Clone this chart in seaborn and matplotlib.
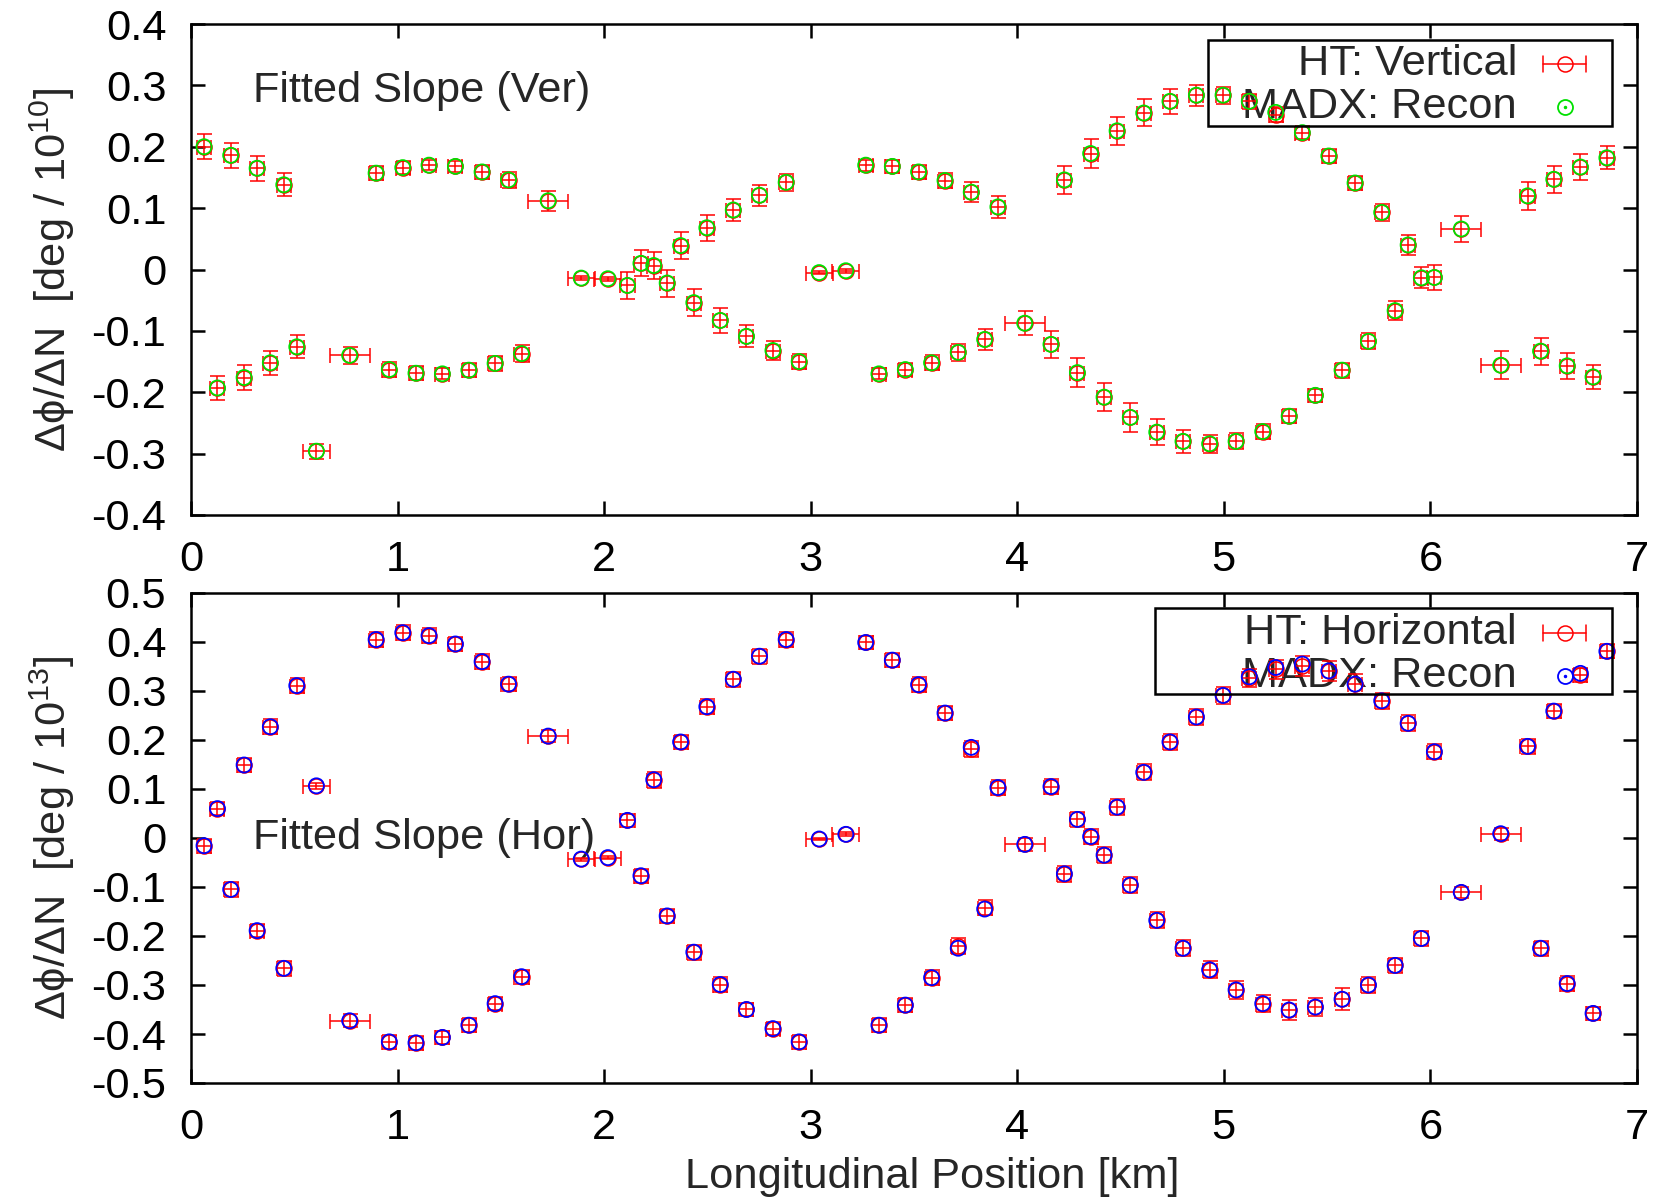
import numpy as np
import pandas as pd
import seaborn as sns
import matplotlib
matplotlib.use("Agg")
import matplotlib.pyplot as plt
from matplotlib.patches import Rectangle

# ---------------- data ----------------
positions = [0.063, 0.128, 0.192, 0.257, 0.320, 0.384, 0.449, 0.512, 0.607, 0.768,
             0.896, 0.960, 1.025, 1.089, 1.152, 1.217, 1.280, 1.345, 1.409, 1.472,
             1.537, 1.600, 1.729, 1.889, 2.018, 2.113, 2.178, 2.240, 2.305, 2.370,
             2.434, 2.497, 2.562, 2.625, 2.689, 2.752, 2.817, 2.881, 2.944, 3.041,
             3.170, 3.266, 3.330, 3.395, 3.458, 3.522, 3.585, 3.650, 3.714, 3.777,
             3.842, 3.906, 4.036, 4.163, 4.228, 4.291, 4.355, 4.420, 4.483, 4.547,
             4.612, 4.675, 4.739, 4.802, 4.867, 4.931, 4.996, 5.059, 5.123, 5.188,
             5.251, 5.316, 5.380, 5.443, 5.508, 5.572, 5.635, 5.700, 5.764, 5.829,
             5.892, 5.956, 6.019, 6.149, 6.340, 6.470, 6.533, 6.597, 6.662, 6.726,
             6.787, 6.854]

position_err = [0.034, 0.034, 0.034, 0.034, 0.034, 0.034, 0.034, 0.034, 0.065, 0.097,
                0.034, 0.034, 0.034, 0.034, 0.034, 0.034, 0.034, 0.034, 0.034, 0.034,
                0.034, 0.034, 0.097, 0.065, 0.065, 0.034, 0.034, 0.034, 0.034, 0.034,
                0.034, 0.034, 0.034, 0.034, 0.034, 0.034, 0.034, 0.034, 0.034, 0.065,
                0.065, 0.034, 0.034, 0.034, 0.034, 0.034, 0.034, 0.034, 0.034, 0.034,
                0.034, 0.034, 0.097, 0.034, 0.034, 0.034, 0.034, 0.034, 0.034, 0.034,
                0.034, 0.034, 0.034, 0.034, 0.034, 0.034, 0.034, 0.034, 0.034, 0.034,
                0.034, 0.034, 0.034, 0.034, 0.034, 0.034, 0.034, 0.034, 0.034, 0.034,
                0.034, 0.034, 0.034, 0.097, 0.097, 0.034, 0.034, 0.034, 0.034, 0.034,
                0.034, 0.034]

ver_ht = [0.200, -0.193, 0.186, -0.176, 0.165, -0.152, 0.138, -0.126, -0.296, -0.140,
          0.157, -0.163, 0.166, -0.169, 0.170, -0.170, 0.168, -0.164, 0.159, -0.153,
          0.146, -0.137, 0.112, -0.014, -0.015, -0.026, 0.010, 0.0065, -0.022, 0.039,
          -0.054, 0.068, -0.083, 0.097, -0.109, 0.121, -0.132, 0.142, -0.150, -0.005,
          -0.002, 0.170, -0.170, 0.168, -0.163, 0.159, -0.152, 0.145, -0.135, 0.126,
          -0.114, 0.102, -0.0875, -0.122, 0.146, -0.168, 0.189, -0.208, 0.226, -0.241,
          0.255, -0.265, 0.274, -0.280, 0.284, -0.284, 0.284, -0.280, 0.274, -0.264,
          0.252, -0.239, 0.223, -0.205, 0.185, -0.164, 0.141, -0.117, 0.093, -0.067,
          0.040, -0.0136, -0.013, 0.066, -0.156, 0.120, -0.133, 0.147, -0.157, 0.167,
          -0.175, 0.182]

ver_ht_err = [0.020, 0.020, 0.020, 0.020, 0.020, 0.020, 0.019, 0.019, 0.012, 0.014,
              0.0115, 0.012, 0.011, 0.011, 0.008, 0.009, 0.009, 0.011, 0.011, 0.012,
              0.013, 0.014, 0.016, 0.003, 0.003, 0.022, 0.021, 0.022, 0.022, 0.022,
              0.022, 0.021, 0.020, 0.018, 0.018, 0.017, 0.015, 0.014, 0.012, 0.003,
              0.003, 0.009, 0.009, 0.010, 0.011, 0.012, 0.012, 0.013, 0.014, 0.016,
              0.017, 0.018, 0.020, 0.022, 0.023, 0.023, 0.023, 0.023, 0.023, 0.023,
              0.022, 0.021, 0.020, 0.019, 0.017, 0.015, 0.014, 0.013, 0.012, 0.012,
              0.012, 0.011, 0.011, 0.011, 0.011, 0.012, 0.012, 0.013, 0.014, 0.015,
              0.017, 0.017, 0.020, 0.021, 0.023, 0.023, 0.022, 0.022, 0.021, 0.021,
              0.019, 0.019]

ver_madx = [0.200, -0.193, 0.186, -0.176, 0.165, -0.152, 0.138, -0.126, -0.296, -0.140,
            0.157, -0.163, 0.166, -0.169, 0.170, -0.170, 0.168, -0.164, 0.159, -0.153,
            0.146, -0.137, 0.112, -0.014, -0.015, -0.026, 0.010, 0.0065, -0.022, 0.039,
            -0.054, 0.068, -0.083, 0.097, -0.109, 0.121, -0.132, 0.142, -0.150, -0.005,
            -0.002, 0.170, -0.170, 0.168, -0.163, 0.159, -0.152, 0.145, -0.135, 0.126,
            -0.114, 0.102, -0.0875, -0.122, 0.146, -0.168, 0.189, -0.208, 0.226, -0.241,
            0.255, -0.265, 0.274, -0.280, 0.284, -0.284, 0.284, -0.280, 0.274, -0.264,
            0.256, -0.239, 0.223, -0.205, 0.185, -0.164, 0.141, -0.117, 0.093, -0.067,
            0.040, -0.0136, -0.013, 0.066, -0.156, 0.120, -0.133, 0.147, -0.157, 0.167,
            -0.175, 0.182]

hor_ht = [-0.0157, 0.060, -0.105, 0.149, -0.189, 0.227, -0.266, 0.311, 0.1065, -0.373,
          0.405, -0.416, 0.419, -0.418, 0.413, -0.407, 0.396, -0.382, 0.360, -0.338,
          0.314, -0.283, 0.208, -0.043, -0.040, 0.036, -0.077, 0.119, -0.159, 0.196,
          -0.233, 0.268, -0.299, 0.324, -0.350, 0.371, -0.389, 0.405, -0.416, -0.002,
          0.0075, 0.399, -0.382, 0.363, -0.341, 0.313, -0.285, 0.255, -0.221, 0.181,
          -0.142, 0.103, -0.013, 0.105, -0.073, 0.038, 0.003, -0.035, 0.063, -0.096,
          0.134, -0.168, 0.196, -0.225, 0.247, -0.269, 0.291, -0.310, 0.327, -0.338,
          0.344, -0.351, 0.351, -0.345, 0.341, -0.329, 0.314, -0.300, 0.280, -0.260,
          0.234, -0.205, 0.176, -0.111, 0.0088, 0.187, -0.225, 0.259, -0.297, 0.333,
          -0.358, 0.381]

hor_ht_err = [0.014, 0.014, 0.015, 0.015, 0.014, 0.015, 0.015, 0.015, 0.006, 0.013,
              0.015, 0.014, 0.015, 0.014, 0.015, 0.014, 0.015, 0.014, 0.015, 0.014,
              0.015, 0.014, 0.012, 0.003, 0.003, 0.013, 0.014, 0.016, 0.015, 0.015,
              0.015, 0.015, 0.015, 0.015, 0.014, 0.015, 0.014, 0.015, 0.014, 0.003,
              0.004, 0.014, 0.014, 0.015, 0.014, 0.015, 0.015, 0.015, 0.016, 0.016,
              0.016, 0.015, 0.013, 0.016, 0.016, 0.016, 0.016, 0.016, 0.016, 0.016,
              0.016, 0.016, 0.016, 0.016, 0.016, 0.017, 0.017, 0.018, 0.018, 0.018,
              0.019, 0.021, 0.020, 0.019, 0.020, 0.022, 0.020, 0.017, 0.016, 0.016,
              0.016, 0.015, 0.015, 0.012, 0.012, 0.015, 0.015, 0.015, 0.015, 0.014,
              0.014, 0.014]

hor_madx = [-0.0157, 0.060, -0.105, 0.149, -0.189, 0.227, -0.266, 0.311, 0.1065, -0.373,
            0.405, -0.416, 0.419, -0.418, 0.413, -0.407, 0.396, -0.382, 0.360, -0.338,
            0.314, -0.283, 0.208, -0.043, -0.040, 0.036, -0.077, 0.119, -0.159, 0.196,
            -0.233, 0.268, -0.299, 0.324, -0.350, 0.371, -0.389, 0.405, -0.416, -0.002,
            0.0075, 0.399, -0.382, 0.363, -0.341, 0.313, -0.285, 0.255, -0.225, 0.185,
            -0.145, 0.103, -0.013, 0.105, -0.073, 0.038, 0.003, -0.035, 0.063, -0.096,
            0.134, -0.168, 0.196, -0.225, 0.247, -0.269, 0.291, -0.310, 0.329, -0.338,
            0.348, -0.351, 0.355, -0.345, 0.341, -0.329, 0.314, -0.300, 0.280, -0.260,
            0.234, -0.205, 0.176, -0.111, 0.0088, 0.187, -0.225, 0.259, -0.297, 0.336,
            -0.358, 0.381]

x_ticks = [0, 1, 2, 3, 4, 5, 6, 7]
x_tick_labels = ["0", "1", "2", "3", "4", "5", "6", "7"]
ver_ticks = [-0.4, -0.3, -0.2, -0.1, 0.0, 0.1, 0.2, 0.3, 0.4]
ver_tick_labels = ["-0.4", "-0.3", "-0.2", "-0.1", "0", "0.1", "0.2", "0.3", "0.4"]
hor_ticks = [-0.5, -0.4, -0.3, -0.2, -0.1, 0.0, 0.1, 0.2, 0.3, 0.4, 0.5]
hor_tick_labels = ["-0.5", "-0.4", "-0.3", "-0.2", "-0.1", "0", "0.1", "0.2", "0.3", "0.4", "0.5"]

# ---------------- style ----------------
sns.set_theme(style="ticks")
plt.rcParams["font.family"] = ["Liberation Sans", "DejaVu Sans"]
plt.rcParams["mathtext.fontset"] = "custom"
plt.rcParams["mathtext.rm"] = "Liberation Sans"
plt.rcParams["mathtext.it"] = "Liberation Sans:italic"
plt.rcParams["axes.unicode_minus"] = False

FS = 31.2
RED = "#ff0000"
GREEN = "#00e000"
BLUE = "#0000ff"
W, H = 1665, 1204

fig = plt.figure(figsize=(W / 100, H / 100), dpi=100)
fig.patch.set_facecolor("white")
ax_top = fig.add_axes([191 / W, 1 - 515 / H, 1446 / W, 491 / H])
ax_bot = fig.add_axes([191 / W, 1 - 1083 / H, 1446 / W, 490 / H])


def draw_panel(ax, y_ht, y_err, y_madx, madx_color, ticks, tick_labels, ylim,
               ylabel, title, title_y, ht_label, box):
    ax.set_facecolor("white")
    # measurement with error bars
    ax.errorbar(positions, y_ht, xerr=position_err, yerr=y_err, fmt="o",
                ms=10.8, mfc="none", mec=RED, mew=1.1, ecolor=RED,
                elinewidth=1.1, capsize=5.4, capthick=1.1, zorder=2)
    # model points
    df = pd.DataFrame({"s": positions, "v": y_madx})
    sns.scatterplot(data=df, x="s", y="v", ax=ax, marker="o", s=117,
                    facecolor="none", edgecolor=madx_color, linewidth=1.3,
                    zorder=3, legend=False)
    coll = ax.collections[-1]
    coll.set_facecolor("none")
    coll.set_edgecolor(madx_color)

    ax.set_xlim(0, 7)
    ax.set_ylim(*ylim)
    ax.set_xticks(x_ticks)
    ax.set_xticklabels(x_tick_labels)
    ax.set_yticks(ticks)
    ax.set_yticklabels(tick_labels)
    ax.set_xlabel("")
    ax.set_ylabel(ylabel, fontsize=FS, va="center")
    ax.yaxis.set_label_coords(-0.096, 0.5)
    ax.tick_params(axis="both", which="major", direction="in", length=10,
                   width=1.8, top=True, right=True, labelsize=FS, colors="black")
    ax.tick_params(axis="x", pad=18)
    ax.tick_params(axis="y", pad=17.8)
    for sp in ax.spines.values():
        sp.set_visible(True)
        sp.set_linewidth(1.8)
        sp.set_color("black")

    ax.text(0.043, title_y, title, transform=ax.transAxes, ha="left",
            va="center", fontsize=FS, zorder=1)

    # legend box (gnuplot-style: right-justified text, sample on the right)
    x0, y0, x1, y1, r1, r2 = box
    ax.add_patch(Rectangle((x0, y1), x1 - x0, y0 - y1, transform=ax.transAxes,
                           fill=False, ec="black", lw=1.8, zorder=4))
    ax.text(0.917, r1, ht_label, transform=ax.transAxes, ha="right",
            va="center", fontsize=FS, zorder=1)
    ax.text(0.917, r2, "MADX: Recon", transform=ax.transAxes, ha="right",
            va="center", fontsize=FS, zorder=1)
    sx, dx = 0.950, 21.5 / 1446
    dc = 8 / 491
    tr = ax.transAxes
    ax.plot([sx - dx, sx + dx], [r1, r1], color=RED, lw=1.1, transform=tr, zorder=4)
    ax.plot([sx - dx, sx - dx], [r1 - dc, r1 + dc], color=RED, lw=1.1, transform=tr, zorder=4)
    ax.plot([sx + dx, sx + dx], [r1 - dc, r1 + dc], color=RED, lw=1.1, transform=tr, zorder=4)
    ax.plot([sx], [r1], "o", ms=10.8, mfc="none", mec=RED, mew=1.1, transform=tr, zorder=4)
    ax.plot([sx], [r2], "o", ms=10.8, mfc="none", mec=madx_color, mew=1.3, transform=tr, zorder=4)
    ax.plot([sx], [r2], "o", ms=1.5, mfc=madx_color, mec=madx_color, transform=tr, zorder=4)


draw_panel(ax_top, ver_ht, ver_ht_err, ver_madx, GREEN, ver_ticks, ver_tick_labels,
           (-0.4, 0.4), "Δϕ/ΔN  [deg / 10$^{10}$]", "Fitted Slope (Ver)", 0.863,
           "HT: Vertical", (0.703, 0.967, 0.983, 0.792, 0.918, 0.830))
draw_panel(ax_bot, hor_ht, hor_ht_err, hor_madx, BLUE, hor_ticks, hor_tick_labels,
           (-0.5, 0.5), "Δϕ/ΔN  [deg / 10$^{13}$]", "Fitted Slope (Hor)", 0.500,
           "HT: Horizontal", (0.667, 0.969, 0.983, 0.794, 0.918, 0.831))

ax_bot.set_xlabel("Longitudinal Position [km]", fontsize=FS)
ax_bot.xaxis.set_label_coords(0.5125, -0.192)
ax_bot.xaxis.label.set_va("center")

fig.savefig("out.png", dpi=100, facecolor="white")
